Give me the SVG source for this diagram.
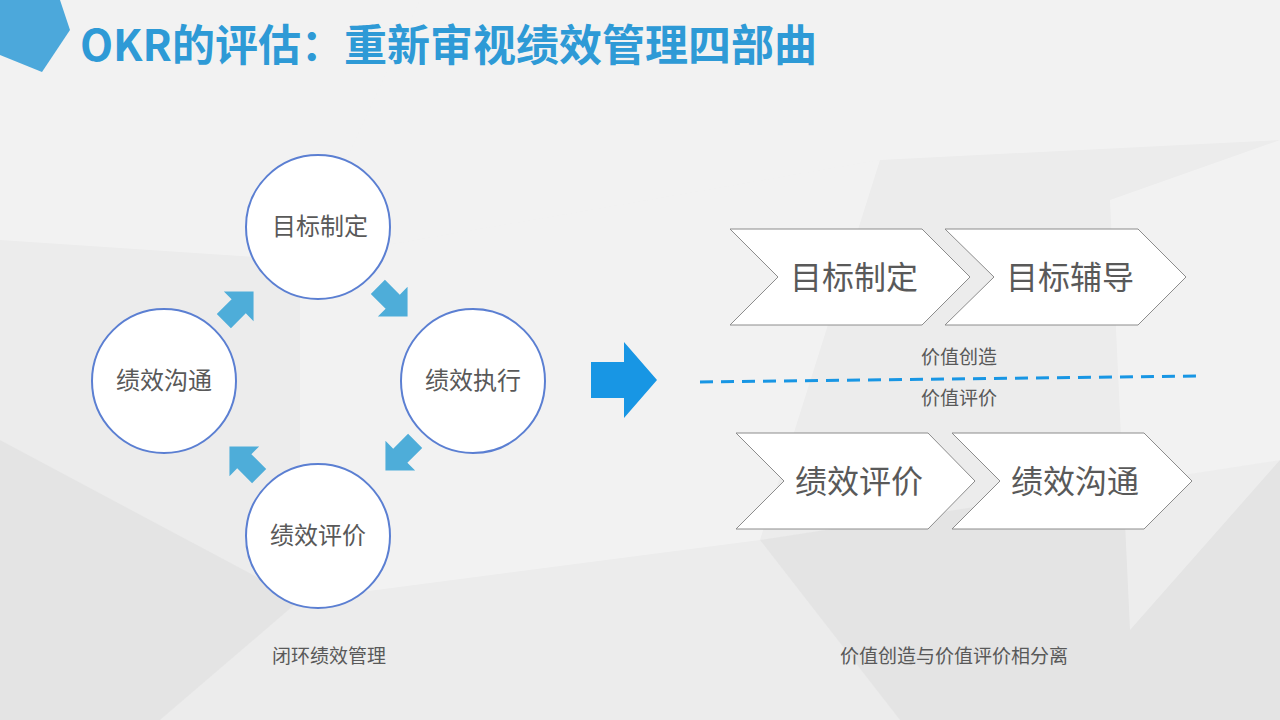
<svg xmlns="http://www.w3.org/2000/svg" width="1280" height="720" viewBox="0 0 1280 720">
<defs>
<style>
.bg{fill:#ffffff;opacity:0.35}
.bgd{fill:#d8d8d8;opacity:0.35}
.c{fill:#ffffff;stroke:#5b7fd2;stroke-width:2}
.ct{font-family:"Noto Sans CJK SC",sans-serif;font-size:24px;fill:#595959;text-anchor:middle}
.ch{fill:#ffffff;stroke:#8c8c8c;stroke-width:1}
.cht{font-family:"Noto Sans CJK SC",sans-serif;font-size:32px;fill:#595959;text-anchor:middle}
.sm{font-family:"Noto Sans CJK SC",sans-serif;font-size:19px;fill:#595959;text-anchor:middle}
.sa{fill:#4eadd9}
</style>
<polygon id="sarr" points="-20,-10 1,-10 1,-21 22,0 1,21 1,10 -20,10"/>
</defs>
<rect width="1280" height="720" fill="#ececec"/>
<polygon class="bg" points="0,0 420,0 300,260 0,240"/>
<polygon class="bg" points="420,0 1280,0 1280,140 880,160 300,260"/>
<polygon class="bgd" points="0,440 300,600 160,720 0,720"/>
<polygon class="bgd" points="760,540 1280,460 1280,720 900,720"/>
<polygon class="bg" points="300,260 880,160 760,540 300,600"/>
<polygon class="bg" points="1110,200 1280,140 1280,460 1130,630"/>
<polygon points="0,0 60,0 70,30 42,72 0,55" fill="#3aa0d8" opacity="0.9"/>
<text x="80" y="61" font-family="Noto Sans CJK SC, sans-serif" font-size="43" font-weight="bold" fill="#2e9ad6">OKR的评估：重新审视绩效管理四部曲</text>

<g id="connectors">
<use href="#sarr" class="sa" transform="translate(238,307) rotate(-45)"/>
<use href="#sarr" class="sa" transform="translate(392,301) rotate(45)"/>
<use href="#sarr" class="sa" transform="translate(401,455) rotate(135)"/>
<use href="#sarr" class="sa" transform="translate(245,462) rotate(-135)"/>
<polygon points="591,362 624,362 624,342 657,380 624,418 624,398 591,398" fill="#1896e4"/>
<line x1="700" y1="382" x2="1196" y2="376" stroke="#1896e4" stroke-width="3" stroke-dasharray="13,8"/>
</g>

<g id="n1"><circle class="c" cx="318" cy="227" r="72"/><text class="ct" x="320" y="235">目标制定</text></g>
<g id="n2"><circle class="c" cx="473" cy="381" r="72"/><text class="ct" x="473" y="389">绩效执行</text></g>
<g id="n3"><circle class="c" cx="318" cy="536" r="72"/><text class="ct" x="318" y="544">绩效评价</text></g>
<g id="n4"><circle class="c" cx="164" cy="381" r="72"/><text class="ct" x="164" y="389">绩效沟通</text></g>

<g id="c1"><polygon class="ch" points="730,229 922,229 970,277 922,325 730,325 778,277"/><text class="cht" x="854" y="289">目标制定</text></g>
<g id="c2"><polygon class="ch" points="945,229 1138,229 1186,277 1138,325 945,325 994,277"/><text class="cht" x="1070" y="289">目标辅导</text></g>
<g id="c3"><polygon class="ch" points="736,433 928,433 975,481 928,529 736,529 784,481"/><text class="cht" x="859" y="493">绩效评价</text></g>
<g id="c4"><polygon class="ch" points="952,433 1144,433 1192,481 1144,529 952,529 1000,481"/><text class="cht" x="1075" y="493">绩效沟通</text></g>

<text class="sm" x="959" y="364">价值创造</text>
<text class="sm" x="959" y="405">价值评价</text>
<text class="sm" x="329" y="663">闭环绩效管理</text>
<text class="sm" x="954" y="663">价值创造与价值评价相分离</text>
</svg>
